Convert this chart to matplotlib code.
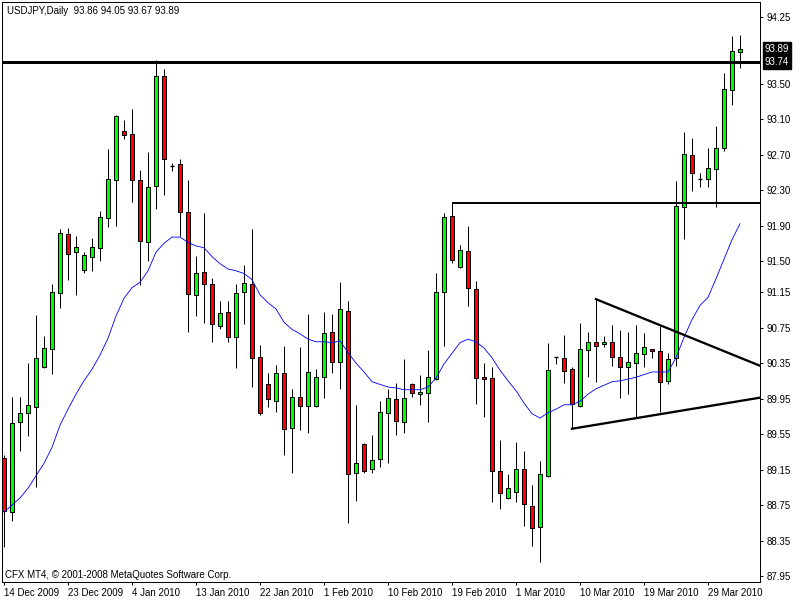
import matplotlib
matplotlib.use("Agg")
import matplotlib.pyplot as plt
from matplotlib.patches import Rectangle
from matplotlib.transforms import blended_transform_factory

plt.rcParams['font.family'] = ['Liberation Sans', 'DejaVu Sans']

symbol_title = "USDJPY,Daily  93.86 94.05 93.67 93.89"
copyright_text = "CFX MT4, \u00a9 2001-2008 MetaQuotes Software Corp."

opens = [89.28, 88.67, 89.69, 89.79, 89.85, 90.31, 90.51, 91.14, 91.80, 91.60,
         91.40, 91.55, 91.65, 91.98, 92.41, 92.97, 92.93, 92.41, 91.71, 92.35,
         93.59, 92.57, 92.59, 92.05, 91.12, 91.38, 91.24, 90.77, 90.93, 90.64,
         91.15, 91.24, 90.42, 90.11, 89.92, 90.24, 89.62, 89.97, 89.87, 89.87,
         90.19, 90.70, 90.36, 90.94, 89.11, 89.44, 89.16, 89.27, 89.79, 89.95,
         89.69, 90.11, 90.00, 90.01, 90.17, 91.15, 92.01, 91.43, 91.61, 91.18,
         90.19, 90.18, 89.13, 88.83, 88.90, 89.16, 88.74, 88.50, 89.08, 90.42,
         90.41, 90.28, 89.87, 90.50, 90.59, 90.56, 90.59, 90.42, 90.31, 90.35,
         90.45, 90.51, 90.49, 90.15, 90.41, 92.11, 92.70, 92.42, 92.42, 92.54,
         92.77, 93.43, 93.86]
highs = [89.31, 89.97, 89.97, 90.35, 90.89, 90.65, 91.24, 91.86, 91.87, 91.78,
         91.60, 91.76, 92.06, 92.76, 93.14, 93.09, 93.21, 92.53, 92.73, 93.77,
         93.66, 92.60, 92.65, 92.41, 91.56, 92.04, 91.31, 91.05, 91.05, 91.24,
         91.46, 91.86, 90.55, 90.24, 90.33, 90.54, 90.06, 90.53, 90.90, 90.28,
         90.93, 90.90, 91.26, 91.05, 89.88, 89.45, 89.54, 89.92, 90.06, 90.13,
         90.40, 90.13, 90.22, 90.50, 91.36, 92.04, 92.15, 91.68, 91.89, 91.27,
         90.35, 90.31, 89.48, 89.10, 89.46, 89.36, 88.98, 89.25, 90.58, 90.42,
         90.67, 90.31, 90.80, 90.70, 91.06, 90.65, 90.78, 90.72, 90.70, 90.78,
         90.69, 90.51, 90.77, 90.46, 92.40, 92.95, 92.89, 92.49, 92.77, 93.02,
         93.62, 94.04, 94.05]
lows = [88.28, 88.57, 89.36, 89.53, 88.95, 90.29, 90.23, 90.97, 91.29, 91.12,
        91.36, 91.39, 91.50, 91.88, 91.89, 92.88, 92.17, 91.23, 91.50, 92.09,
        92.24, 92.51, 91.78, 90.70, 90.88, 90.80, 90.59, 90.73, 90.59, 90.29,
        90.79, 90.08, 89.76, 89.85, 89.80, 89.31, 89.11, 89.60, 89.56, 89.85,
        89.96, 90.24, 90.06, 88.55, 88.80, 89.11, 89.11, 89.18, 89.22, 89.54,
        89.56, 89.97, 89.88, 89.69, 90.16, 90.54, 91.48, 91.42, 90.99, 89.89,
        89.74, 88.78, 88.71, 88.82, 88.78, 88.51, 88.29, 88.11, 89.07, 90.34,
        90.12, 89.61, 89.85, 90.19, 90.14, 90.53, 90.32, 89.96, 90.00, 89.73,
        90.31, 90.41, 89.80, 90.11, 90.32, 91.75, 92.29, 92.33, 92.33, 92.11,
        92.74, 93.26, 93.67]
closes = [88.68, 89.67, 89.79, 89.88, 90.41, 90.52, 91.15, 91.82, 91.58, 91.66,
          91.57, 91.66, 92.00, 92.42, 93.13, 92.92, 92.41, 91.73, 92.33, 93.59,
          92.65, 92.57, 92.05, 91.13, 91.36, 91.24, 90.79, 90.91, 90.64, 91.14,
          91.25, 90.41, 89.79, 89.95, 90.24, 89.61, 89.97, 89.87, 90.25, 90.19,
          90.69, 90.36, 90.96, 89.10, 89.22, 89.13, 89.26, 89.80, 89.96, 89.70,
          89.96, 90.01, 90.02, 90.19, 91.15, 92.00, 91.51, 91.62, 91.20, 90.18,
          90.17, 89.13, 88.89, 88.94, 89.16, 88.76, 88.49, 89.10, 90.27, 90.42,
          90.26, 89.89, 90.51, 90.59, 90.54, 90.59, 90.42, 90.31, 90.36, 90.46,
          90.53, 90.49, 90.14, 90.40, 92.12, 92.71, 92.49, 92.42, 92.55, 92.77,
          93.44, 93.87, 93.89]
ma_values = [88.67, 88.75, 88.83, 88.94, 89.08, 89.22, 89.40, 89.65, 89.83, 90.00,
             90.15, 90.28, 90.44, 90.63, 90.88, 91.08, 91.20, 91.26, 91.39, 91.60,
             91.70, 91.77, 91.77, 91.71, 91.67, 91.65, 91.55, 91.47, 91.41, 91.39,
             91.36, 91.29, 91.12, 91.03, 90.96, 90.81, 90.73, 90.68, 90.62, 90.59,
             90.59, 90.58, 90.60, 90.47, 90.35, 90.25, 90.14, 90.11, 90.08, 90.07,
             90.05, 90.05, 90.05, 90.08, 90.18, 90.34, 90.46, 90.58, 90.62, 90.59,
             90.52, 90.41, 90.27, 90.15, 90.04, 89.90, 89.78, 89.73, 89.79, 89.83,
             89.88, 89.88, 89.92, 90.00, 90.06, 90.10, 90.14, 90.15, 90.17, 90.19,
             90.22, 90.25, 90.25, 90.25, 90.41, 90.64, 90.84, 91.00, 91.09, 91.30,
             91.52, 91.74, 91.92]

date_labels = ["14 Dec 2009", "23 Dec 2009", "4 Jan 2010", "13 Jan 2010",
               "22 Jan 2010", "1 Feb 2010", "10 Feb 2010", "19 Feb 2010",
               "1 Mar 2010", "10 Mar 2010", "19 Mar 2010", "29 Mar 2010"]
date_label_bars = [0, 8, 16, 24, 32, 40, 48, 56, 64, 72, 80, 88]
price_ticks = [94.25, 93.50, 93.10, 92.70, 92.30, 91.90, 91.50, 91.15,
               90.75, 90.35, 89.95, 89.55, 89.15, 88.75, 88.35, 87.95]

resistance_level = 93.74
breakout_level = 92.15
breakout_start_bar = 56
# trend lines: anchor bar, anchor price, slope per bar
upper_trend = (74, 91.07, -0.0366)
lower_trend = (71, 89.61, 0.0149)
last_price = 93.89

fig = plt.figure(figsize=(8, 6), dpi=100)
ax = fig.add_axes([2 / 800, 18 / 600, 758 / 800, 580 / 600])
ax.set_xlim(-0.25, 94.5)
ax.set_ylim(87.883, 94.419)

px = 0.72
body_w = 0.62
for i, (o, h, l, c) in enumerate(zip(opens, highs, lows, closes)):
    ax.vlines(i, l, h, color='black', lw=px, zorder=2)
    if c == o:
        ax.hlines(o, i - body_w / 2, i + body_w / 2, color='black', lw=1.4 * px, zorder=3)
    else:
        col = '#00ff00' if c > o else '#ff0000'
        ax.add_patch(Rectangle((i - body_w / 2, min(o, c)), body_w, abs(c - o),
                               facecolor=col, edgecolor='black', lw=px, zorder=3))

ax.plot(range(len(ma_values)), ma_values, color='#0000ff', lw=0.85 * px, zorder=4)

ax.axhline(resistance_level, color='black', lw=3 * px, zorder=5)
ax.hlines(breakout_level, breakout_start_bar, 100, color='black', lw=2 * px, zorder=5)
for (a, p, s) in (upper_trend, lower_trend):
    ax.plot([a, 100], [p, p + s * (100 - a)], color='black', lw=2.3 * px, zorder=5)

for sp in ax.spines.values():
    sp.set_linewidth(px)
    sp.set_color('black')

ax.yaxis.tick_right()
ax.set_yticks(price_ticks)
ax.set_yticklabels([f"{v:.2f}" for v in price_ticks])
ax.tick_params(axis='y', direction='out', length=2.5, width=px, pad=2, labelsize=7)
ax.set_xticks(date_label_bars)
ax.set_xticklabels(date_labels, ha='left')
ax.tick_params(axis='x', direction='out', length=2.5, width=px, pad=1.5, labelsize=7)

trans = blended_transform_factory(ax.transAxes, ax.transData)
for val in (last_price, resistance_level):
    ax.text(1.006, val, f"{val:.2f}", transform=trans, color='white', fontsize=7,
            va='center', ha='left', zorder=10, clip_on=False,
            bbox=dict(boxstyle='square,pad=0.18', fc='black', ec='black'))

fig.text(7 / 800, 1 - 11 / 600, symbol_title, fontsize=7, va='center', ha='left')
fig.text(5 / 800, 1 - 575 / 600, copyright_text, fontsize=7, va='center', ha='left')

fig.savefig("out.png", dpi=100)
